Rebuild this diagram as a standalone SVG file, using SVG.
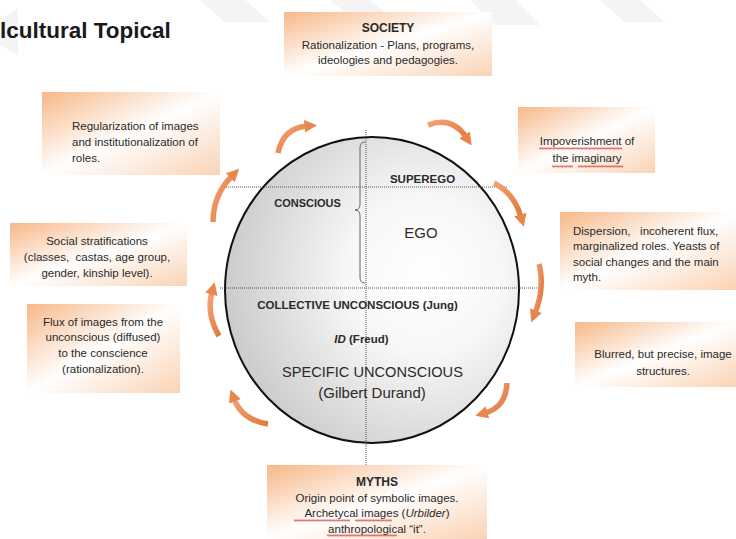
<svg xmlns="http://www.w3.org/2000/svg" width="736" height="539" viewBox="0 0 736 539">
<defs>
<style>
.t{font-family:"Liberation Sans",Arial,sans-serif;font-size:11.5px;fill:#2a2a2a}
.c{text-anchor:middle}
.b{font-weight:bold}
.box{fill:url(#peach)}
.arr{fill:none;stroke:url(#org);stroke-width:5.5;stroke-linecap:butt}
.grid{stroke:#555;stroke-width:1;stroke-dasharray:1 1;fill:none}
.wm{fill:#f4f4f4}
</style>
<linearGradient id="peach" x1="0" y1="0" x2="1" y2="1">
<stop offset="0" stop-color="#f7b888"/>
<stop offset="0.5" stop-color="#ffffff"/>
<stop offset="1" stop-color="#fad3b4"/>
</linearGradient>
<linearGradient id="org" x1="0" y1="0" x2="1" y2="1">
<stop offset="0" stop-color="#f4a070"/>
<stop offset="1" stop-color="#e07a40"/>
</linearGradient>
<radialGradient id="globe" cx="0.68" cy="0.45" r="0.75">
<stop offset="0" stop-color="#ffffff"/>
<stop offset="0.35" stop-color="#f7f7f7"/>
<stop offset="1" stop-color="#c4c4c4"/>
</radialGradient>
<marker id="ah" viewBox="0 0 10 10" refX="2" refY="5" markerWidth="2.3" markerHeight="2.4" orient="auto" markerUnits="strokeWidth">
<path d="M0 0 L10 5 L0 10 Z" fill="#e8864c"/>
</marker>
<pattern id="wave" width="4" height="3" patternUnits="userSpaceOnUse">
<path d="M0 2.5 L1 0.5 L2 2.5 L3 0.5 L4 2.5" fill="none" stroke="#d84040" stroke-width="0.7"/>
</pattern>
</defs>
<rect width="736" height="539" fill="#ffffff"/>
<g id="watermark">
<polygon class="wm" points="200,0 245,0 270,22 225,22"/>
<polygon class="wm" points="330,0 370,0 395,20 355,20"/>
<polygon class="wm" points="470,0 515,0 540,25 495,25"/>
<polygon class="wm" points="600,0 640,0 665,22 625,22"/>
<polygon class="wm" points="0,20 18,8 18,55 0,45"/>
</g>
<text id="title" x="0" y="38" style="font-family:'Liberation Sans',Arial,sans-serif;font-weight:bold;font-size:22.5px;fill:#1a1a1a">lcultural Topical</text>

<g id="globe-node">
<ellipse cx="372" cy="290" rx="147" ry="153" fill="url(#globe)" stroke="#111" stroke-width="2"/>
<line class="grid" x1="366" y1="130" x2="366" y2="465"/>
<line class="grid" x1="222" y1="187" x2="508" y2="187"/>
<line class="grid" x1="220" y1="288" x2="540" y2="288"/>
<path d="M365 142 Q360 142 360 148 L360 204 Q360 210 355 210 Q360 210 360 216 L360 277 Q360 283 365 283" fill="none" stroke="#666" stroke-width="1"/>
<text class="t b c" x="307.5" y="207" style="font-size:11px">CONSCIOUS</text>
<text class="t b c" x="422.5" y="183">SUPEREGO</text>
<text class="t c" x="421" y="238" style="font-size:15px">EGO</text>
<text class="t b c" x="357.5" y="309">COLLECTIVE UNCONSCIOUS (Jung)</text>
<text class="t b c" x="361.5" y="343"><tspan font-style="italic">ID</tspan> (Freud)</text>
<text class="t c" x="372.5" y="377" style="font-size:14.6px">SPECIFIC UNCONSCIOUS</text>
<text class="t c" x="372" y="398" style="font-size:15px">(Gilbert Durand)</text>
</g>

<g id="society">
<rect class="box" x="284" y="12" width="208" height="64"/>
<text class="t b c" x="388" y="32" style="font-size:12px">SOCIETY</text>
<text class="t c" x="388" y="49">Rationalization - Plans, programs,</text>
<text class="t c" x="388" y="64">ideologies and pedagogies.</text>
</g>

<g id="regularization">
<rect class="box" x="42" y="92" width="178" height="83"/>
<text class="t" x="72" y="130">Regularization of images</text>
<text class="t" x="72" y="146">and institutionalization of</text>
<text class="t" x="72" y="162">roles.</text>
</g>

<g id="impoverishment">
<rect class="box" x="518" y="107" width="137" height="66"/>
<text class="t c" x="587" y="145">Impoverishment of</text>
<text class="t c" x="587" y="162">the imaginary</text>
<rect x="539" y="147" width="83" height="3" fill="url(#wave)"/>
<rect x="552" y="165" width="21" height="3" fill="url(#wave)"/>
<rect x="578" y="165" width="45" height="3" fill="url(#wave)"/>
</g>

<g id="dispersion">
<rect class="box" x="560" y="212" width="176" height="78"/>
<text class="t" x="573" y="235" xml:space="preserve">Dispersion,   incoherent flux,</text>
<text class="t" x="573" y="250">marginalized roles. Yeasts of</text>
<text class="t" x="573" y="266">social changes and the main</text>
<text class="t" x="573" y="281">myth.</text>
</g>

<g id="stratifications">
<rect class="box" x="10" y="223" width="177" height="63"/>
<text class="t c" x="97" y="245">Social stratifications</text>
<text class="t c" x="97" y="261" xml:space="preserve">(classes,  castas, age group,</text>
<text class="t c" x="97" y="277">gender, kinship level).</text>
</g>

<g id="flux">
<rect class="box" x="27" y="304" width="153" height="89"/>
<text class="t c" x="103" y="326">Flux of images from the</text>
<text class="t c" x="103" y="341">unconscious (diffused)</text>
<text class="t c" x="103" y="357">to the conscience</text>
<text class="t c" x="103" y="373">(rationalization).</text>
</g>

<g id="blurred">
<rect class="box" x="575" y="322" width="161" height="65"/>
<text class="t c" x="663" y="358">Blurred, but precise, image</text>
<text class="t c" x="663" y="375">structures.</text>
</g>

<g id="myths">
<rect class="box" x="267" y="465" width="220" height="74"/>
<text class="t b c" x="377" y="486" style="font-size:12px">MYTHS</text>
<text class="t c" x="377" y="502">Origin point of symbolic images.</text>
<text class="t c" x="377" y="517">Archetycal images (<tspan font-style="italic">Urbilder</tspan>)</text>
<text class="t c" x="377" y="533">anthropological “it”.</text>
<rect x="294" y="519" width="56" height="3" fill="url(#wave)"/>
<rect x="355" y="519" width="37" height="3" fill="url(#wave)"/>
<rect x="327" y="534" width="70" height="3" fill="url(#wave)"/>
</g>

<g id="connectors">
<path class="arr" marker-end="url(#ah)" d="M278 153 Q283 128 307 126"/>
<path class="arr" marker-end="url(#ah)" d="M428 125 Q452 116 466 137"/>
<path class="arr" marker-end="url(#ah)" d="M494 183 Q514 193 521 217"/>
<path class="arr" marker-end="url(#ah)" d="M539 264 Q545 288 535 313"/>
<path class="arr" marker-end="url(#ah)" d="M507 383 Q506 407 485 413"/>
<path class="arr" marker-end="url(#ah)" d="M268 424 Q242 420 234 399"/>
<path class="arr" marker-end="url(#ah)" d="M219 336 Q206 314 212 292"/>
<path class="arr" marker-end="url(#ah)" d="M213 222 Q213 195 232 176"/>
</g>
</svg>
